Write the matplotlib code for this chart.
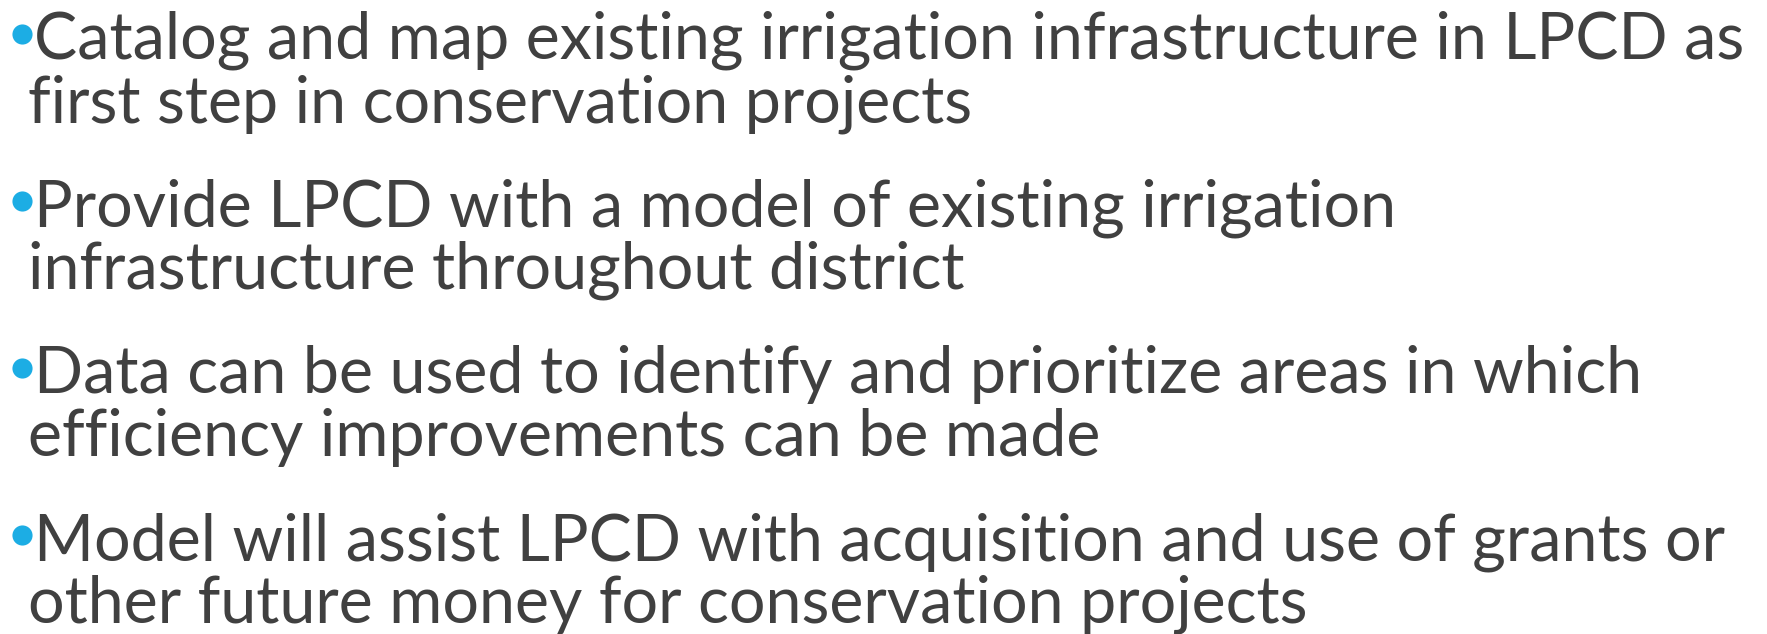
import matplotlib
matplotlib.use("Agg")
import matplotlib.pyplot as plt

W, H = 1767, 634
DPI = 100

bullets = [
    ["Catalog and map existing irrigation infrastructure in LPCD as",
     "first step in conservation projects"],
    ["Provide LPCD with a model of existing irrigation",
     "infrastructure throughout district"],
    ["Data can be used to identify and prioritize areas in which",
     "efficiency improvements can be made"],
    ["Model will assist LPCD with acquisition and use of grants or",
     "other future money for conservation projects"],
]

TEXT_COLOR = "#404040"
BULLET_COLOR = "#1CADE4"
FONT = "Lato"

fig = plt.figure(figsize=(W / DPI, H / DPI), dpi=DPI)
fig.patch.set_facecolor("white")
ax = fig.add_axes([0, 0, 1, 1])
ax.set_xlim(0, W)
ax.set_ylim(H, 0)
ax.axis("off")

# fit font size so that first line spans the reference width
target_w = 1712
probe = ax.text(0, 0, bullets[0][0], fontsize=50, family=FONT)
fig.canvas.draw()
r = fig.canvas.get_renderer()
w = probe.get_window_extent(r).width
probe.remove()
fs = 50 * target_w / w

first_baseline = 59
line_gap = 63
para_gap = 104
x_first = 34
x_cont = 28

y = first_baseline
for para in bullets:
    ax.plot([22], [y - 25], marker="o", markersize=14.5, color=BULLET_COLOR,
            markeredgewidth=0)
    for i, line in enumerate(para):
        ax.text(x_first if i == 0 else x_cont, y, line, fontsize=fs, family=FONT,
                color=TEXT_COLOR, va="baseline", ha="left")
        if i < len(para) - 1:
            y += line_gap
    y += para_gap

fig.savefig("out.png", dpi=DPI, facecolor="white")
